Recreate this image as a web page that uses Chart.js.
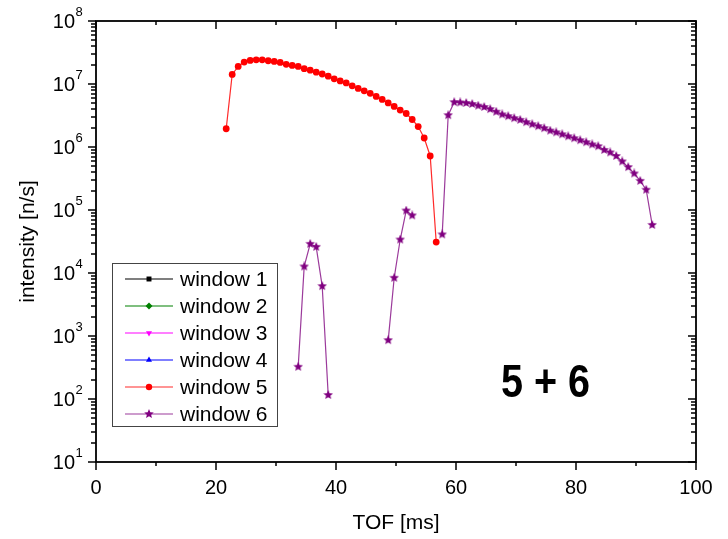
<!DOCTYPE html>
<html>
<head>
<meta charset="utf-8">
<script src="https://cdn.jsdelivr.net/npm/chart.js@4.4.1/dist/chart.umd.min.js"></script>
<style>
  html, body { margin: 0; padding: 0; background: #fff; }
  canvas { display: block; }
</style>
</head>
<body>
<canvas id="tofChart" width="728" height="539"></canvas>
<script>
// window 5 (red circles)
const win5Tof = [21.7, 22.7, 23.7, 24.7, 25.7, 26.7, 27.7, 28.7, 29.7, 30.7, 31.7, 32.7,
                 33.7, 34.7, 35.7, 36.7, 37.7, 38.7, 39.7, 40.7, 41.7, 42.7, 43.7, 44.7,
                 45.7, 46.7, 47.7, 48.7, 49.7, 50.7, 51.7, 52.7, 53.7, 54.7, 55.7, 56.7];
const win5Int = [1.95e6, 1.42e7, 1.9e7, 2.23e7, 2.37e7, 2.42e7, 2.42e7, 2.34e7, 2.28e7, 2.2e7, 2.05e7, 1.97e7,
                 1.9e7, 1.75e7, 1.66e7, 1.54e7, 1.44e7, 1.33e7, 1.21e7, 1.12e7, 1.04e7, 9.35e6, 8.5e6, 7.8e6,
                 7.1e6, 6.35e6, 5.7e6, 5.0e6, 4.4e6, 3.85e6, 3.4e6, 2.73e6, 2.11e6, 1.39e6, 7.2e5, 3.1e4];

// window 6 (purple stars), three separate pieces
const win6aTof = [33.7, 34.7, 35.7, 36.7, 37.7, 38.7];
const win6aInt = [325, 1.27e4, 2.9e4, 2.6e4, 6.2e3, 116];
const win6bTof = [48.7, 49.7, 50.7, 51.7, 52.7];
const win6bInt = [860, 8.4e3, 3.4e4, 9.8e4, 8.2e4];
const win6cTof = [57.7, 58.7, 59.7, 60.7, 61.7, 62.7, 63.7, 64.7, 65.7, 66.7, 67.7, 68.7,
                  69.7, 70.7, 71.7, 72.7, 73.7, 74.7, 75.7, 76.7, 77.7, 78.7, 79.7, 80.7,
                  81.7, 82.7, 83.7, 84.7, 85.7, 86.7, 87.7, 88.7, 89.7, 90.7, 91.7, 92.7];
const win6cInt = [4.1e4, 3.2e6, 5.15e6, 5.1e6, 5.0e6, 4.82e6, 4.53e6, 4.32e6, 4.0e6, 3.63e6, 3.29e6, 3.09e6,
                  2.87e6, 2.7e6, 2.48e6, 2.3e6, 2.14e6, 1.99e6, 1.82e6, 1.71e6, 1.59e6, 1.48e6, 1.38e6, 1.28e6,
                  1.19e6, 1.1e6, 1.03e6, 9.0e5, 8.2e5, 7.2e5, 5.9e5, 4.8e5, 3.8e5, 2.9e5, 2.1e5, 5.8e4];

// axes
const xTicks = [0, 20, 40, 60, 80, 100];
const xMinorTicks = [10, 30, 50, 70, 90];
const yExponents = [1, 2, 3, 4, 5, 6, 7, 8];
const windowNames = ['window 1', 'window 2', 'window 3', 'window 4', 'window 5', 'window 6'];

const FONT = '"Liberation Sans", Arial, sans-serif';

function makeStar(size, color) {
    const c = document.createElement('canvas');
    c.width = size;
    c.height = size;
    const g = c.getContext('2d');
    const r = size / 2, ri = r * 0.45;
    g.beginPath();
    for (let i = 0; i < 10; i++) {
        const ang = -Math.PI / 2 + i * Math.PI / 5;
        const rr = i % 2 === 0 ? r : ri;
        g.lineTo(r + rr * Math.cos(ang), r + rr * Math.sin(ang));
    }
    g.closePath();
    g.fillStyle = color;
    g.fill();
    return c;
}

function toPoints(tof, vals) {
    return tof.map((t, i) => ({ x: t, y: vals[i] }));
}

// null y breaks the line between the pieces
const gapAfter = tof => ({ x: tof[tof.length - 1], y: null });
const win6Points = [
    ...toPoints(win6aTof, win6aInt), gapAfter(win6aTof),
    ...toPoints(win6bTof, win6bInt), gapAfter(win6bTof),
    ...toPoints(win6cTof, win6cInt)
];

const star = makeStar(10, '#800080');

const datasets = [
    { label: windowNames[0], data: [], borderColor: '#000000', backgroundColor: '#000000', pointStyle: 'rect', pointRadius: 3.5 },
    { label: windowNames[1], data: [], borderColor: '#008000', backgroundColor: '#008000', pointStyle: 'rectRot', pointRadius: 4 },
    { label: windowNames[2], data: [], borderColor: '#ff00ff', backgroundColor: '#ff00ff', pointStyle: 'triangle', pointRotation: 180, pointRadius: 4 },
    { label: windowNames[3], data: [], borderColor: '#0000ff', backgroundColor: '#0000ff', pointStyle: 'triangle', pointRadius: 4 },
    { label: windowNames[4], data: toPoints(win5Tof, win5Int), borderColor: '#ff2a2a', backgroundColor: '#ff0000',
      pointBorderColor: '#ff0000', pointStyle: 'circle', pointRadius: 3.4, pointBorderWidth: 0 },
    { label: windowNames[5], data: win6Points, borderColor: '#9b3a9b', backgroundColor: '#800080',
      pointStyle: star, pointRadius: 5 }
];
datasets.forEach(d => { d.borderWidth = 1.2; d.showLine = true; d.spanGaps = false; });

// Frame, ticks, labels, legend and annotation
const framePlugin = {
    id: 'frame',
    afterDraw(chart) {
        const ctx = chart.ctx;
        const xs = chart.scales.x, ys = chart.scales.y;
        const a = chart.chartArea;
        ctx.save();
        ctx.strokeStyle = '#000';
        ctx.fillStyle = '#000';

        // 1. tick marks (bottom/left outward, top/right inward)
        ctx.lineWidth = 1.5;
        ctx.beginPath();
        const xTick = (v, len) => {
            const px = Math.round(xs.getPixelForValue(v));
            ctx.moveTo(px, a.bottom); ctx.lineTo(px, a.bottom + len);
            ctx.moveTo(px, a.top); ctx.lineTo(px, a.top + len);
        };
        xTicks.forEach(v => xTick(v, 8));
        xMinorTicks.forEach(v => xTick(v, 4));
        const yTick = (v, len) => {
            const py = Math.round(ys.getPixelForValue(v));
            ctx.moveTo(a.left - len, py); ctx.lineTo(a.left, py);
            ctx.moveTo(a.right - len, py); ctx.lineTo(a.right, py);
        };
        yExponents.forEach(e => {
            yTick(Math.pow(10, e), 8);
            if (e < 8) {
                for (let m = 2; m <= 9; m++) yTick(m * Math.pow(10, e), 5);
            }
        });
        ctx.stroke();

        // 2. frame
        ctx.lineWidth = 1.8;
        ctx.strokeRect(a.left, a.top, a.right - a.left, a.bottom - a.top);

        // 3. tick labels
        ctx.font = '20px ' + FONT;
        ctx.textAlign = 'center';
        ctx.textBaseline = 'middle';
        xTicks.forEach(v => ctx.fillText(String(v), xs.getPixelForValue(v), a.bottom + 26));

        yExponents.forEach(e => {
            const py = ys.getPixelForValue(Math.pow(10, e));
            ctx.font = '20px ' + FONT;
            ctx.textAlign = 'right';
            ctx.textBaseline = 'middle';
            ctx.fillText('10', 75, py + 1);
            ctx.font = '13px ' + FONT;
            ctx.textAlign = 'left';
            ctx.textBaseline = 'alphabetic';
            ctx.fillText(String(e), 75.5, py - 5);
        });

        // 4. axis titles
        ctx.font = '21px ' + FONT;
        ctx.textAlign = 'center';
        ctx.textBaseline = 'middle';
        ctx.fillText('TOF [ms]', (a.left + a.right) / 2, 523);
        ctx.save();
        ctx.translate(28, (a.top + a.bottom) / 2);
        ctx.rotate(-Math.PI / 2);
        ctx.fillText('intensity [n/s]', 0, 0);
        ctx.restore();

        // 5. legend
        ctx.fillStyle = '#fff';
        ctx.fillRect(112, 263, 165, 163);
        ctx.strokeStyle = '#444';
        ctx.lineWidth = 1;
        ctx.strokeRect(112.5, 263.5, 165, 163);
        chart.data.datasets.forEach((ds, i) => {
            const ly = 279 + i * 27;
            ctx.strokeStyle = ds.borderColor;
            ctx.lineWidth = 1.2;
            ctx.beginPath();
            ctx.moveTo(125, ly); ctx.lineTo(173, ly);
            ctx.stroke();
            ctx.fillStyle = ds.backgroundColor;
            ctx.strokeStyle = ds.backgroundColor;
            if (Chart.helpers && Chart.helpers.drawPoint) {
                Chart.helpers.drawPoint(ctx, {
                    pointStyle: ds.pointStyle,
                    rotation: ds.pointRotation || 0,
                    radius: ds.pointStyle === 'circle' ? 3.2 : 3.5,
                    borderWidth: 0
                }, 149, ly);
            }
            ctx.fillStyle = '#000';
            ctx.font = '21px ' + FONT;
            ctx.textAlign = 'left';
            ctx.textBaseline = 'middle';
            ctx.fillText(ds.label, 180, ly + 1);
        });

        // 6. annotation
        ctx.save();
        ctx.translate(545.5, 384);
        ctx.scale(0.86, 1);
        ctx.fillStyle = '#000';
        ctx.font = 'bold 46px ' + FONT;
        ctx.textAlign = 'center';
        ctx.textBaseline = 'middle';
        ctx.fillText('5 + 6', 0, 0);
        ctx.restore();

        ctx.restore();
    }
};

new Chart(document.getElementById('tofChart'), {
    type: 'line',
    data: { datasets },
    options: {
        responsive: false,
        animation: false,
        devicePixelRatio: 1,
        layout: { padding: { left: 96, right: 32, top: 21, bottom: 77 } },
        scales: {
            x: { type: 'linear', min: 0, max: 100, display: false },
            y: { type: 'logarithmic', min: 10, max: 1e8, display: false }
        },
        elements: { line: { tension: 0 } },
        plugins: { legend: { display: false }, tooltip: { enabled: false } }
    },
    plugins: [framePlugin]
});
</script>
</body>
</html>
